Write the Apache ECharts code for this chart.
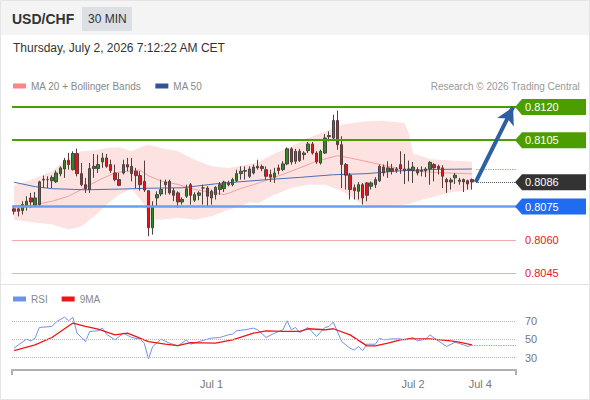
<!DOCTYPE html>
<html>
<head>
<meta charset="utf-8">
<script src="https://cdn.jsdelivr.net/npm/echarts@6/dist/echarts.min.js"></script>
<style>
html,body{margin:0;padding:0;background:#fff;}
#chart{width:590px;height:400px;}
</style>
</head>
<body>
<div id="chart"></div>
<script>
// ---------------- data ----------------
const slotCount = 120;                       // 30-minute slots on the time axis
const categories = Array.from({length: slotCount}, (_, i) => 'S' + i);
const dateTickIdx = [47, 95, 111];
const dateTickLabels = ['Jul 1', 'Jul 2', 'Jul 4'];

const opens = [0.80740,0.80740,0.80732,0.80756,0.80789,0.80756,0.80759,0.80870,0.80872,0.80867,
0.80862,0.80898,0.80920,0.80959,0.80917,0.80990,0.80899,0.80849,0.80827,0.80922,
0.80922,0.80952,0.80970,0.80940,0.80902,0.80872,0.80902,0.80940,0.80932,0.80910,
0.80890,0.80864,0.80822,0.80654,0.80789,0.80807,0.80849,0.80864,0.80822,0.80812,
0.80771,0.80797,0.80849,0.80779,0.80801,0.80834,0.80834,0.80789,0.80804,0.80827,
0.80831,0.80849,0.80849,0.80867,0.80899,0.80910,0.80887,0.80902,0.80932,0.80931,
0.80917,0.80895,0.80883,0.80925,0.80917,0.80943,0.81011,0.80955,0.81000,0.80985,
0.81003,0.81033,0.80992,0.80947,0.80992,0.81066,0.81060,0.81139,0.81030,0.80940,
0.80892,0.80835,0.80819,0.80849,0.80857,0.80842,0.80849,0.80867,0.80929,0.80910,
0.80922,0.80914,0.80940,0.80913,0.80914,0.80913,0.80917,0.80910,0.80913,0.80920,
0.80940,0.80932,0.80925,0.80872,0.80861,0.80880,0.80864,0.80872,0.80867,0.80872];
const closes = [0.80729,0.80729,0.80759,0.80774,0.80771,0.80789,0.80862,0.80873,0.80872,0.80882,
0.80902,0.80925,0.80959,0.80940,0.80990,0.80899,0.80849,0.80831,0.80922,0.80932,
0.80940,0.80970,0.80932,0.80913,0.80872,0.80846,0.80940,0.80929,0.80899,0.80890,
0.80849,0.80825,0.80654,0.80752,0.80804,0.80827,0.80861,0.80812,0.80801,0.80771,
0.80782,0.80831,0.80801,0.80804,0.80812,0.80834,0.80797,0.80819,0.80837,0.80849,
0.80861,0.80857,0.80872,0.80899,0.80910,0.80913,0.80920,0.80929,0.80925,0.80922,
0.80887,0.80883,0.80902,0.80913,0.80943,0.81011,0.80952,0.81000,0.80958,0.80992,
0.81033,0.80992,0.80952,0.81000,0.81060,0.81071,0.81139,0.81030,0.80940,0.80892,
0.80827,0.80822,0.80849,0.80789,0.80801,0.80857,0.80872,0.80932,0.80902,0.80925,
0.80910,0.80920,0.80920,0.80920,0.80920,0.80929,0.80902,0.80914,0.80920,0.80950,
0.80925,0.80922,0.80887,0.80861,0.80870,0.80892,0.80870,0.80861,0.80852,0.80861];
const lows = [0.80714,0.80706,0.80714,0.80732,0.80744,0.80751,0.80751,0.80834,0.80834,0.80834,
0.80857,0.80887,0.80880,0.80917,0.80913,0.80887,0.80842,0.80812,0.80812,0.80880,
0.80902,0.80925,0.80925,0.80902,0.80864,0.80842,0.80895,0.80910,0.80864,0.80834,
0.80822,0.80816,0.80616,0.80623,0.80752,0.80797,0.80804,0.80804,0.80774,0.80744,
0.80759,0.80789,0.80759,0.80771,0.80779,0.80759,0.80752,0.80759,0.80782,0.80804,
0.80816,0.80842,0.80842,0.80861,0.80872,0.80872,0.80880,0.80895,0.80917,0.80910,
0.80872,0.80861,0.80857,0.80895,0.80910,0.80937,0.80940,0.80943,0.80952,0.80962,
0.80992,0.80985,0.80943,0.80940,0.80988,0.81045,0.81053,0.81007,0.80834,0.80827,
0.80782,0.80782,0.80782,0.80759,0.80774,0.80827,0.80834,0.80861,0.80887,0.80880,
0.80895,0.80902,0.80898,0.80852,0.80864,0.80857,0.80891,0.80887,0.80883,0.80849,
0.80864,0.80895,0.80834,0.80812,0.80827,0.80852,0.80849,0.80816,0.80827,0.80827];
const highs = [0.80747,0.80745,0.80774,0.80797,0.80812,0.80816,0.80867,0.80890,0.80887,0.80891,
0.80913,0.80932,0.80970,0.80993,0.81000,0.81012,0.80947,0.80880,0.80947,0.80988,
0.80985,0.80993,0.80988,0.80962,0.80940,0.80902,0.80962,0.80970,0.80970,0.80925,
0.80910,0.80958,0.80822,0.80774,0.80819,0.80872,0.80872,0.80872,0.80834,0.80819,
0.80792,0.80849,0.80857,0.80815,0.80819,0.80849,0.80842,0.80827,0.80842,0.80861,
0.80867,0.80867,0.80880,0.80917,0.80932,0.80932,0.80932,0.80940,0.80962,0.80940,
0.80932,0.80917,0.80925,0.80940,0.80955,0.81018,0.81018,0.81011,0.81011,0.81000,
0.81042,0.81042,0.81000,0.81007,0.81078,0.81090,0.81166,0.81184,0.81068,0.80947,
0.80902,0.80850,0.80861,0.80857,0.80861,0.80864,0.80883,0.80940,0.80940,0.80955,
0.80943,0.80929,0.81000,0.80988,0.80958,0.80952,0.80928,0.80932,0.80928,0.80955,
0.80947,0.80940,0.80937,0.80880,0.80880,0.80902,0.80880,0.80877,0.80872,0.80877];

const ma20Idx = [0,4,9,13,16,20,24,28,30,32,35,39,43,47,50,51,54,57,60,66,72,77,80,85,89,95,103,109];
const ma20Val = [0.80755,0.80755,0.80774,0.80797,0.80827,0.80868,0.80903,0.80912,0.80915,0.80889,
0.80866,0.80850,0.80828,0.80813,0.80804,0.80810,0.80832,0.80849,0.80868,0.80910,
0.80955,0.80980,0.80970,0.80949,0.80932,0.80910,0.80902,0.80898];

const ma50Idx = [0,5,9,17,25,32,40,48,55,61,68,76,84,92,101,109];
const ma50Val = [0.80860,0.80840,0.80831,0.80826,0.80829,0.80833,0.80835,0.80853,0.80864,0.80873,
0.80882,0.80894,0.80899,0.80912,0.80918,0.80920];

const bandIdx = [0,4,9,13,16,18,20,22,25,28,31,32,35,39,43,47,51,54,56,58,62,66,70,74,78,83,88,93,94,95,99,104,109];
const bandUpper = [0.80845,0.80870,0.80910,0.80970,0.81000,0.81003,0.81007,0.81015,0.81018,0.81000,
0.81025,0.81030,0.81015,0.81000,0.80962,0.80932,0.80925,0.80935,0.80942,0.80950,
0.80990,0.81022,0.81060,0.81090,0.81120,0.81135,0.81138,0.81128,0.81080,0.80990,
0.80965,0.80958,0.80953];
const bandLower = [0.80690,0.80680,0.80669,0.80646,0.80660,0.80691,0.80720,0.80759,0.80804,0.80830,
0.80760,0.80691,0.80691,0.80699,0.80691,0.80706,0.80736,0.80752,0.80770,0.80765,
0.80804,0.80834,0.80849,0.80849,0.80820,0.80760,0.80751,0.80759,0.80762,0.80770,
0.80790,0.80815,0.80825];

const rsiIdx = [0,1,3,4,5,6,9,10,12,13,14,15,17,18,20,21,22,24,26,28,30,31,32,33,35,37,39,41,42,44,
46,47,49,51,52,53,55,57,58,60,62,64,65,66,67,68,70,72,74,75,76,78,80,81,82,83,84,86,87,88,
90,92,93,95,96,98,99,101,103,105,107,108,109];
const rsiVal = [40.1,43.8,50.0,48.1,51.1,62.7,63.8,68.6,74.0,70.0,73.7,56.5,47.4,58.4,59.1,62.0,55.4,49.2,56.5,51.8,
50.0,45.6,28.5,42.0,50.0,45.6,42.7,49.2,44.5,47.4,50.0,51.1,51.8,54.7,55.4,59.1,60.2,62.0,60.2,51.8,
56.5,60.2,70.0,60.2,62.7,57.2,62.7,52.9,62.7,63.8,68.6,47.4,40.1,38.3,42.0,37.6,44.5,44.5,51.1,49.2,
50.3,50.3,49.2,51.8,48.1,50.0,54.7,48.1,42.0,46.7,43.8,42.0,43.8];

const rsiMaIdx = [0,5,9,14,17,20,24,27,32,36,39,42,48,52,57,60,64,68,70,74,76,80,84,86,89,92,94,99,104,106,109];
const rsiMaVal = [37.6,43.8,51.8,67.5,63.8,60.9,54.7,56.5,47.4,44.5,43.0,46.3,45.6,49.2,56.5,59.1,58.4,58.4,61.3,60.2,
61.3,54.7,42.7,42.7,45.6,49.2,50.3,50.3,48.1,46.7,43.8];
const rsiTicks = [30, 50, 70];

const levelValues = [0.8120, 0.8105, 0.8086, 0.8075, 0.8060, 0.8045];
const levelTags   = ['0.8120', '0.8105', '0.8086', '0.8075', '0.8060', '0.8045'];
const levelKinds  = ['resist', 'resist', 'last', 'pivot', 'support', 'support'];

// ---------------- styles ----------------
const FONT = '"Liberation Sans", Arial, Helvetica, sans-serif';
const kindStyle = {
  resist:  {line: {color: '#4c9e00', width: 2, type: 'solid'}, fill: '#4c9e00', text: '#ffffff'},
  last:    {line: {color: '#555555', width: 1, type: 'dotted'}, fill: '#333333', text: '#ffffff'},
  pivot:   {line: {color: '#6d9cf3', width: 2.5, type: 'solid'}, fill: '#1f6cf0', text: '#ffffff'},
  support: {line: {color: '#f5a9a9', width: 1, type: 'solid'}, fill: null, text: '#e8141b'}
};

const candleData = opens.map((o, i) => [o, closes[i], lows[i], highs[i]]);
const pairs = (idx, vals) => idx.map((x, k) => [x, vals[k]]);
const lastIdx = opens.length - 1;
const lastClose = closes[lastIdx];
const axisStart = -0.5;
const axisEnd = slotCount - 0.5;
const arrowEndSlot = 118.8;

const levelMarks = [];
levelValues.forEach((v, k) => {
  const st = kindStyle[levelKinds[k]];
  if (levelKinds[k] === 'last') {
    levelMarks.push([{coord: [lastIdx + 1, lastClose], lineStyle: st.line}, {coord: [axisEnd, lastClose]}]);
  } else {
    levelMarks.push([{coord: [axisStart, v], lineStyle: st.line}, {coord: [axisEnd, v]}]);
  }
});
levelMarks.push([{coord: [lastIdx + 1, ma50Val[ma50Val.length - 1]], lineStyle: {color: '#7d9bd6', width: 1.2, type: 'dotted'}},
                 {coord: [axisEnd, ma50Val[ma50Val.length - 1]]}]);
levelMarks.push([{coord: [lastIdx + 0.9, lastClose], symbol: 'none', lineStyle: {color: '#2e5fa3', width: 4, type: 'solid'}},
                 {coord: [arrowEndSlot, levelValues[0]], symbol: 'arrow', symbolSize: [14, 17]}]);

const rsiMarks = rsiTicks.map(v => [{coord: [axisStart, v], lineStyle: {color: '#b8b8b8', width: 1, type: 'dotted'}}, {coord: [axisEnd, v]}]);
rsiMarks.push([{coord: [lastIdx, rsiVal[rsiVal.length - 1]], lineStyle: {color: '#7f9cf0', width: 1.2, type: 'dotted'}},
               {coord: [axisEnd, rsiVal[rsiVal.length - 1]]}]);

const staticGraphics = [
  {type: 'rect', id: 'hdr', shape: {x: 0, y: 0, width: 590, height: 35}, style: {fill: '#f4f4f4'}, z: 0, silent: true},
  {type: 'rect', id: 'tf', shape: {x: 82, y: 7, width: 50, height: 24}, style: {fill: '#dcdfe3'}, z: 0, silent: true},
  {type: 'line', id: 'sep', shape: {x1: 0, y1: 284.5, x2: 590, y2: 284.5}, style: {stroke: '#e4e4e4', lineWidth: 1}, z: 0, silent: true},
  {type: 'rect', id: 'frame', shape: {x: 0.5, y: 0.5, width: 589, height: 399}, style: {fill: 'none', stroke: '#e4e4e4', lineWidth: 1}, z: 0, silent: true}
];

const chart = echarts.init(document.getElementById('chart'), null, {renderer: 'svg'});
const titleText = (text, left, top, size, color, weight, right) => {
  const t = {text: text, top: top, padding: 0, textStyle: {fontFamily: FONT, fontSize: size, color: color, fontWeight: weight}};
  if (right != null) t.right = right; else t.left = left;
  return t;
};

const option = {
  animation: false,
  textStyle: {fontFamily: FONT},
  title: [
    titleText('USD/CHF', 12, 12, 14, '#333333', 'bold'),
    titleText('30 MIN', 88, 13, 12, '#333333', 'normal'),
    titleText('Thursday, July 2, 2026 7:12:22 AM CET', 13, 42, 12, '#333333', 'normal'),
    titleText('Research \u00a9 2026 Trading Central', null, 81, 10, '#999999', 'normal', 10)
  ],
  legend: [
    {left: 13, top: 81, padding: 0, icon: 'rect', itemWidth: 13, itemHeight: 5, itemGap: 14, selectedMode: false,
     textStyle: {color: '#888888', fontSize: 10, fontFamily: FONT},
     data: [{name: 'MA 20 + Bollinger Bands', itemStyle: {color: '#ff8585'}}, {name: 'MA 50', itemStyle: {color: '#2f5597'}}]},
    {left: 13, top: 294, padding: 0, icon: 'rect', itemWidth: 13, itemHeight: 5, itemGap: 14, selectedMode: false,
     textStyle: {color: '#888888', fontSize: 10, fontFamily: FONT},
     data: [{name: 'RSI', itemStyle: {color: '#7092ea'}}, {name: '9MA', itemStyle: {color: '#f01515'}}]}
  ],
  grid: [
    {left: 12, right: 74, top: 96, height: 188},
    {left: 12, right: 74, top: 300.5, height: 69.5}
  ],
  xAxis: [
    {type: 'category', gridIndex: 0, data: categories, boundaryGap: true, show: false},
    {type: 'category', gridIndex: 1, data: categories, boundaryGap: true,
     axisLine: {show: true, lineStyle: {color: '#b0b0b0', width: 2}},
     axisTick: {show: true, interval: (i) => i === 0, length: 5, lineStyle: {color: '#b0b0b0', width: 2}},
     axisLabel: {interval: (i) => dateTickIdx.indexOf(i) >= 0,
                 formatter: (v, i) => dateTickLabels[dateTickIdx.indexOf(i)] || '',
                 color: '#777777', fontSize: 11, margin: 8, fontFamily: FONT},
     splitLine: {show: false}},
    {type: 'value', gridIndex: 0, min: axisStart, max: axisEnd, show: false},
    {type: 'value', gridIndex: 1, min: axisStart, max: axisEnd, show: false}
  ],
  yAxis: [
    {type: 'value', gridIndex: 0, min: 0.8040, max: 0.8125, show: false},
    {type: 'value', gridIndex: 1, min: 16.5, max: 92, position: 'right',
     axisLine: {show: false}, axisTick: {show: false}, splitLine: {show: false},
     axisLabel: {customValues: rsiTicks, color: '#777777', fontSize: 11, margin: 9, fontFamily: FONT}}
  ],
  series: [
    {name: 'bandLower', type: 'line', xAxisIndex: 0, yAxisIndex: 0, stack: 'bb', data: pairs(bandIdx, bandLower),
     symbol: 'none', lineStyle: {width: 0, opacity: 0}, silent: true, z: 1},
    {name: 'bandFill', type: 'line', xAxisIndex: 0, yAxisIndex: 0, stack: 'bb',
     data: bandIdx.map((x, k) => [x, +(bandUpper[k] - bandLower[k]).toFixed(5)]),
     symbol: 'none', lineStyle: {width: 0, opacity: 0}, areaStyle: {color: '#fde2e2', opacity: 1}, silent: true, z: 1},
    {name: 'MA 20 + Bollinger Bands', type: 'line', xAxisIndex: 0, yAxisIndex: 0, data: pairs(ma20Idx, ma20Val),
     symbol: 'none', lineStyle: {color: '#f5a0a0', width: 1}, itemStyle: {color: '#ff8585'}, silent: true, z: 2},
    {name: 'MA 50', type: 'line', xAxisIndex: 0, yAxisIndex: 0, data: pairs(ma50Idx, ma50Val),
     symbol: 'none', lineStyle: {color: '#4b6fb3', width: 1}, itemStyle: {color: '#2f5597'}, silent: true, z: 2},
    {name: 'USD/CHF', type: 'candlestick', xAxisIndex: 0, yAxisIndex: 0, data: candleData, barWidth: 3,
     itemStyle: {color: '#2e8b1e', color0: '#e8141b', borderColor: '#4a4242', borderColor0: '#5a3c3c', borderWidth: 1},
     silent: true, z: 3},
    {name: 'levels', type: 'line', xAxisIndex: 2, yAxisIndex: 0, data: [], symbol: 'none', silent: true, z: 5,
     markLine: {silent: true, precision: 5, symbol: ['none', 'none'], label: {show: false}, animation: false, data: levelMarks}},
    {name: 'RSI', type: 'line', xAxisIndex: 1, yAxisIndex: 1, data: pairs(rsiIdx, rsiVal),
     symbol: 'none', lineStyle: {color: '#7092ea', width: 1}, itemStyle: {color: '#7092ea'}, silent: true, z: 3},
    {name: '9MA', type: 'line', xAxisIndex: 1, yAxisIndex: 1, data: pairs(rsiMaIdx, rsiMaVal),
     symbol: 'none', lineStyle: {color: '#f01515', width: 1.3}, itemStyle: {color: '#f01515'}, silent: true, z: 4},
    {name: 'rsiGuides', type: 'line', xAxisIndex: 3, yAxisIndex: 1, data: [], symbol: 'none', silent: true, z: 2,
     markLine: {silent: true, precision: 3, symbol: ['none', 'none'], label: {show: false}, animation: false, data: rsiMarks}}
  ],
  graphic: staticGraphics
};
chart.setOption(option);

// price tags at the right edge, placed through the price axis
const tagEls = [];
const xEdge = chart.convertToPixel({xAxisIndex: 2}, axisEnd);
levelValues.forEach((v, k) => {
  const st = kindStyle[levelKinds[k]];
  const y = chart.convertToPixel({yAxisIndex: 0}, v);
  if (st.fill) {
    tagEls.push({type: 'polygon', id: 'tagbg' + k, z: 10, silent: true,
      shape: {points: [[xEdge - 1, y], [xEdge + 6, y - 8], [xEdge + 70, y - 8], [xEdge + 70, y + 8], [xEdge + 6, y + 8]]},
      style: {fill: st.fill}});
  }
  tagEls.push({type: 'text', id: 'tagtx' + k, z: 11, silent: true, x: xEdge + 9, y: y,
    style: {text: levelTags[k], fill: st.text, font: '11px ' + FONT, textVerticalAlign: 'middle', verticalAlign: 'middle'}});
});
chart.setOption({graphic: staticGraphics.concat(tagEls)});
</script>
</body>
</html>
